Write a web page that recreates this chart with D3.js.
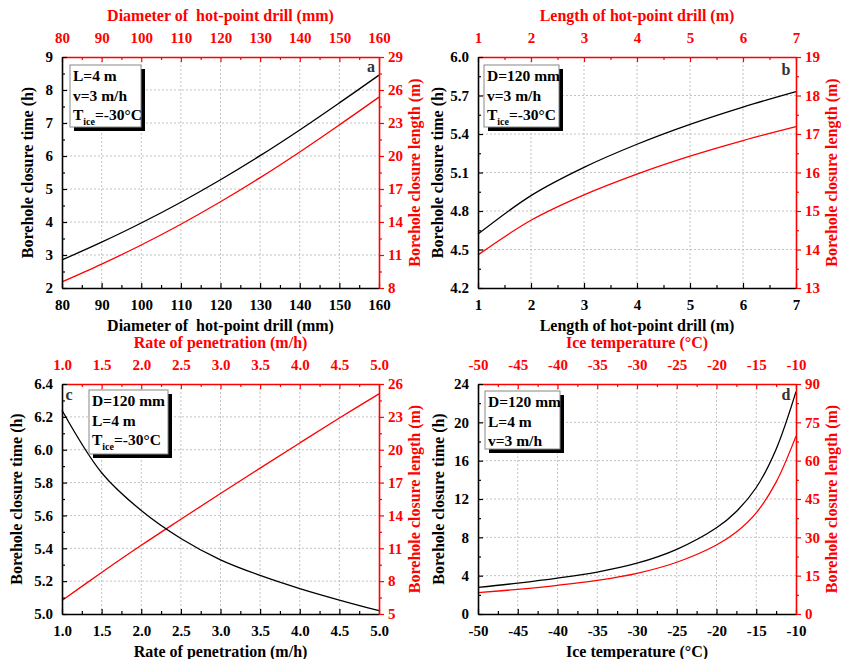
<!DOCTYPE html>
<html>
<head>
<meta charset="utf-8">
<script src="https://cdn.jsdelivr.net/npm/d3@7/dist/d3.min.js"></script>
<style>
  html, body { margin: 0; padding: 0; background: #fff; }
  svg { display: block; }
  text { font-family: "Liberation Serif", "Times New Roman", serif; font-weight: bold; white-space: pre; }
</style>
</head>
<body>
<svg id="chart" width="841" height="659"></svg>
<script>
// ---- data: borehole closure time (h) and closure length (m) ----
// (a) vs. diameter of hot-point drill
const diameterMm = [80, 90, 100, 110, 120, 130, 140, 150, 160];
const diameterTime = [2.85, 3.39, 3.97, 4.60, 5.28, 6.01, 6.79, 7.61, 8.45];
const diameterLength = [8.55, 10.17, 11.91, 13.8, 15.84, 18.03, 20.37, 22.83, 25.35];

// (b) vs. length of hot-point drill
const drillLengthM = [1, 2, 3, 4, 5, 6, 7];
const drillLengthTime = [4.62, 4.92, 5.14, 5.32, 5.475, 5.61, 5.73];
const drillLengthLength = [13.86, 14.76, 15.42, 15.96, 16.425, 16.83, 17.19];

// (c) vs. rate of penetration
const penetrationRate = [1.0, 1.5, 2.0, 2.5, 3.0, 3.5, 4.0, 4.5, 5.0];
const penetrationTime = [6.24, 5.86, 5.63, 5.46, 5.33, 5.235, 5.155, 5.085, 5.02];
const penetrationLength = [6.24, 8.79, 11.27, 13.65, 16.0, 18.32, 20.62, 22.89, 25.1];

// (d) vs. ice temperature
const iceTemp = [-50, -45, -40, -35, -30, -25, -20, -17.5, -15, -12.5, -10];
const iceTempTime = [2.78, 3.22, 3.74, 4.38, 5.3, 6.75, 9.0, 10.7, 13.2, 17.2, 23.2];
const iceTempLength = [8.34, 9.66, 11.22, 13.14, 15.9, 20.25, 27.0, 32.1, 39.6, 51.6, 69.6];

// ---- tick values ----
const ticksDiameter = [80, 90, 100, 110, 120, 130, 140, 150, 160];
const ticksTimeA = [2, 3, 4, 5, 6, 7, 8, 9];
const ticksLengthA = [8, 11, 14, 17, 20, 23, 26, 29];

const ticksDrillLength = [1, 2, 3, 4, 5, 6, 7];
const ticksTimeB = [4.2, 4.5, 4.8, 5.1, 5.4, 5.7, 6.0];
const ticksLengthB = [13, 14, 15, 16, 17, 18, 19];

const ticksRate = [1.0, 1.5, 2.0, 2.5, 3.0, 3.5, 4.0, 4.5, 5.0];
const ticksTimeC = [5.0, 5.2, 5.4, 5.6, 5.8, 6.0, 6.2, 6.4];
const ticksLengthC = [5, 8, 11, 14, 17, 20, 23, 26];

const ticksTemp = [-50, -45, -40, -35, -30, -25, -20, -15, -10];
const ticksTimeD = [0, 4, 8, 12, 16, 20, 24];
const ticksLengthD = [0, 15, 30, 45, 60, 75, 90];

const RED = "#ff0000";
const svg = d3.select("#chart");

// integer labels with a plain hyphen for negatives
const fmtInt = v => String(Math.round(v));
const fmtOne = d3.format(".1f");

// midpoints between consecutive major ticks
function minors(t) {
  const out = [];
  for (let i = 0; i < t.length - 1; i++) out.push((t[i] + t[i + 1]) / 2);
  return out;
}

function drawPanel(p) {
  const g = svg.append("g");
  const x = d3.scaleLinear().domain([p.xTicks[0], p.xTicks[p.xTicks.length - 1]]).range([p.left, p.right]);
  const yL = d3.scaleLinear().domain([p.yTicks[0], p.yTicks[p.yTicks.length - 1]]).range([p.bottom, p.top]);
  const yR = d3.scaleLinear().domain([p.rTicks[0], p.rTicks[p.rTicks.length - 1]]).range([p.bottom, p.top]);

  // dashed grid at major ticks
  const grid = g.append("g").attr("stroke", "#b4b4b4").attr("stroke-width", 0.8).attr("stroke-dasharray", "2,2");
  p.xTicks.slice(1, -1).forEach(v => grid.append("line").attr("x1", x(v)).attr("x2", x(v)).attr("y1", p.top).attr("y2", p.bottom));
  p.yTicks.slice(1, -1).forEach(v => grid.append("line").attr("x1", p.left).attr("x2", p.right).attr("y1", yL(v)).attr("y2", yL(v)));

  // curves
  const curve = d3.curveCatmullRom.alpha(0.5);
  const lineT = d3.line().x((d, i) => x(p.xs[i])).y(d => yL(d)).curve(curve);
  const lineL = d3.line().x((d, i) => x(p.xs[i])).y(d => yR(d)).curve(curve);
  g.append("path").attr("d", lineL(p.lengths)).attr("fill", "none").attr("stroke", RED).attr("stroke-width", 1.3);
  g.append("path").attr("d", lineT(p.times)).attr("fill", "none").attr("stroke", "#000").attr("stroke-width", 1.3);

  const fmtX = p.xFmt, fmtY = p.yFmt;

  function styleAxis(sel, color, fs) {
    sel.select(".domain").attr("stroke", color).attr("stroke-width", 1.6);
    sel.selectAll(".tick line").attr("stroke", color).attr("stroke-width", 1.2);
    sel.selectAll(".tick text").attr("fill", color).attr("font-size", fs)
      .attr("font-family", "Liberation Serif, Times New Roman, serif").attr("font-weight", "bold");
  }

  // minor ticks (no labels)
  function minorAxis(axis, vals, size, tr) {
    const m = g.append("g").attr("transform", tr).call(axis.tickValues(vals).tickSize(size).tickFormat(""));
    m.select(".domain").remove();
    return m;
  }

  // bottom (black, inward ticks)
  minorAxis(d3.axisBottom(x), minors(p.xTicks), -3, `translate(0,${p.bottom})`).selectAll("line").attr("stroke", "#000").attr("stroke-width", 1.2);
  const ab = g.append("g").attr("transform", `translate(0,${p.bottom})`)
    .call(d3.axisBottom(x).tickValues(p.xTicks).tickSize(-5).tickPadding(11).tickSizeOuter(0).tickFormat(fmtX));
  styleAxis(ab, "#000", 15);

  // top (red, inward ticks)
  minorAxis(d3.axisTop(x), minors(p.xTicks), -3, `translate(0,${p.top})`).selectAll("line").attr("stroke", RED).attr("stroke-width", 1.2);
  const at = g.append("g").attr("transform", `translate(0,${p.top})`)
    .call(d3.axisTop(x).tickValues(p.xTicks).tickSize(-5).tickPadding(14).tickSizeOuter(0).tickFormat(fmtX));
  styleAxis(at, RED, 15);

  // right (red, outward ticks)
  minorAxis(d3.axisRight(yR), minors(p.rTicks), 3, `translate(${p.right},0)`).selectAll("line").attr("stroke", RED).attr("stroke-width", 1.2);
  const ar = g.append("g").attr("transform", `translate(${p.right},0)`)
    .call(d3.axisRight(yR).tickValues(p.rTicks).tickSize(5).tickPadding(4).tickSizeOuter(0).tickFormat(fmtInt));
  styleAxis(ar, RED, 15);

  // left (black, inward ticks)
  minorAxis(d3.axisLeft(yL), minors(p.yTicks), -3, `translate(${p.left},0)`).selectAll("line").attr("stroke", "#000").attr("stroke-width", 1.2);
  const al = g.append("g").attr("transform", `translate(${p.left},0)`)
    .call(d3.axisLeft(yL).tickValues(p.yTicks).tickSize(-5).tickPadding(9).tickSizeOuter(0).tickFormat(fmtY));
  styleAxis(al, "#000", 15);

  // axis titles
  const cx = (p.left + p.right) / 2, cy = (p.top + p.bottom) / 2;
  g.append("text").attr("x", cx).attr("y", p.bottom + 43).attr("text-anchor", "middle").attr("font-size", 16).text(p.xTitle);
  g.append("text").attr("x", cx).attr("y", p.top - 36).attr("text-anchor", "middle").attr("font-size", 16).attr("fill", RED).text(p.xTitle);
  g.append("text").attr("transform", `translate(${p.leftTitleX},${cy}) rotate(-90)`).attr("text-anchor", "middle")
    .attr("dominant-baseline", "central").attr("font-size", 16).text("Borehole closure time (h)");
  g.append("text").attr("transform", `translate(${p.right + 35},${cy}) rotate(-90)`).attr("text-anchor", "middle")
    .attr("dominant-baseline", "central").attr("font-size", 16).attr("fill", RED).text("Borehole closure length (m)");

  // panel letter
  g.append("text").attr("x", p.letterX).attr("y", p.letterY).attr("text-anchor", "middle")
    .attr("font-family", "Liberation Sans, Arial, sans-serif").attr("font-size", 16).attr("fill", "#333").text(p.letter);

  // parameter box with drop shadow
  const b = p.box;
  g.append("rect").attr("x", b.x + 4).attr("y", b.y + 4).attr("width", b.w).attr("height", b.h).attr("fill", "#000");
  g.append("rect").attr("x", b.x).attr("y", b.y).attr("width", b.w).attr("height", b.h).attr("fill", "#fff")
    .attr("stroke", "#888").attr("stroke-width", 1);
  p.params.forEach((s, i) => {
    const t = g.append("text").attr("x", b.x + 3).attr("y", b.y + 16 + i * 19.5).attr("font-size", 15.5);
    if (s === "T") {
      t.append("tspan").text("T");
      t.append("tspan").attr("font-size", 10).attr("dy", 5).text("ice");
      t.append("tspan").attr("dy", -5).text("=-30°C");
    } else {
      t.text(s);
    }
  });
}

const panels = [
  {
    left: 62, right: 379, top: 57, bottom: 288,
    xs: diameterMm, times: diameterTime, lengths: diameterLength,
    xTicks: ticksDiameter, yTicks: ticksTimeA, rTicks: ticksLengthA,
    xFmt: fmtInt, yFmt: fmtInt,
    xTitle: "Diameter of  hot-point drill (mm)", leftTitleX: 27,
    letter: "a", letterX: 371, letterY: 72,
    box: { x: 70, y: 65, w: 71, h: 62 }, params: ["L=4 m", "v=3 m/h", "T"]
  },
  {
    left: 478, right: 796, top: 57, bottom: 288,
    xs: drillLengthM, times: drillLengthTime, lengths: drillLengthLength,
    xTicks: ticksDrillLength, yTicks: ticksTimeB, rTicks: ticksLengthB,
    xFmt: fmtInt, yFmt: fmtOne,
    xTitle: "Length of hot-point drill (m)", leftTitleX: 437,
    letter: "b", letterX: 786, letterY: 75,
    box: { x: 484, y: 65, w: 75, h: 62 }, params: ["D=120 mm", "v=3 m/h", "T"]
  },
  {
    left: 62, right: 379, top: 384, bottom: 614,
    xs: penetrationRate, times: penetrationTime, lengths: penetrationLength,
    xTicks: ticksRate, yTicks: ticksTimeC, rTicks: ticksLengthC,
    xFmt: fmtOne, yFmt: fmtOne,
    xTitle: "Rate of penetration (m/h)", leftTitleX: 16,
    letter: "c", letterX: 69, letterY: 400,
    box: { x: 89, y: 390, w: 79, h: 64 }, params: ["D=120 mm", "L=4 m", "T"]
  },
  {
    left: 478, right: 796, top: 384, bottom: 614,
    xs: iceTemp, times: iceTempTime, lengths: iceTempLength,
    xTicks: ticksTemp, yTicks: ticksTimeD, rTicks: ticksLengthD,
    xFmt: fmtInt, yFmt: fmtInt,
    xTitle: "Ice temperature (°C)", leftTitleX: 438,
    letter: "d", letterX: 786, letterY: 400,
    box: { x: 485, y: 391, w: 75, h: 58 }, params: ["D=120 mm", "L=4 m", "v=3 m/h"]
  }
];

panels.forEach(drawPanel);
</script>
</body>
</html>
